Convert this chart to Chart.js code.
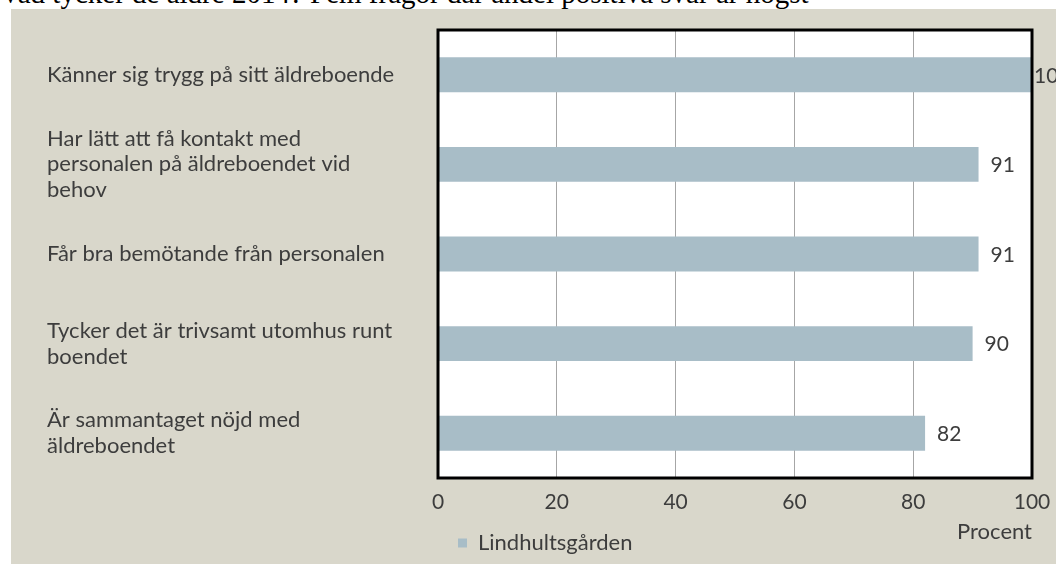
<!DOCTYPE html>
<html>
<head>
<meta charset="utf-8">
<script src="https://cdn.jsdelivr.net/npm/chart.js@4/dist/chart.umd.min.js"></script>
<style>
  html, body { margin: 0; padding: 0; background: #fff; overflow: hidden; }
  body { width: 1056px; height: 564px; position: relative; }
  #title {
    position: absolute; left: 0; top: -21px; white-space: nowrap;
    font-family: "Liberation Serif", "Times New Roman", serif; font-size: 29px; line-height: 1; color: #000;
  }
  #panel {
    position: absolute; left: 11px; top: 9px; width: 1045px; height: 555px; background: #d9d7cb;
  }
</style>
</head>
<body>
<div id="title">Vad tycker de äldre 2014? Fem frågor där andel positiva svar är högst</div>
<div id="panel"><canvas id="chart" width="1045" height="555"></canvas></div>
<script>
// data
const questions = [
    ['Känner sig trygg på sitt äldreboende'],
    ['Har lätt att få kontakt med', 'personalen på äldreboendet vid', 'behov'],
    ['Får bra bemötande från personalen'],
    ['Tycker det är trivsamt utomhus runt', 'boendet'],
    ['Är sammantaget nöjd med', 'äldreboendet']
];
const lindhultsgarden = [100, 91, 91, 90, 82];
const xTicks = [0, 20, 40, 60, 80, 100];
const seriesName = 'Lindhultsgården';
const axisTitle = 'Procent';

const FONT = 'Lato';
const TEXT = '#3d3d3d';
const BAR = '#a8bdc7';

// white plot area + black frame
const framePlugin = {
    id: 'frame',
    beforeDraw(chart) {
        const { ctx, chartArea: a } = chart;
        ctx.save();
        ctx.fillStyle = '#fff';
        ctx.fillRect(a.left, a.top, a.right - a.left, a.bottom - a.top);
        ctx.restore();
    },
    afterDatasetsDraw(chart) {
        const { ctx, chartArea: a } = chart;
        ctx.save();
        ctx.strokeStyle = '#000';
        ctx.lineWidth = 3;
        ctx.strokeRect(a.left, a.top, a.right - a.left, a.bottom - a.top);
        ctx.restore();
    }
};

// value labels right of each bar
const valuePlugin = {
    id: 'values',
    afterDraw(chart) {
        const { ctx, chartArea: a } = chart;
        const meta = chart.getDatasetMeta(0);
        ctx.save();
        ctx.font = `21px ${FONT}`;
        ctx.fillStyle = TEXT;
        ctx.textBaseline = 'middle';
        ctx.textAlign = 'left';
        meta.data.forEach((bar, i) => {
            const x = Math.min(bar.x + 12, a.right + 2);
            ctx.fillText(String(lindhultsgarden[i]), x, bar.y + 1);
        });
        ctx.restore();
    }
};

new Chart(document.getElementById('chart'), {
    type: 'bar',
    data: {
        labels: questions,
        datasets: [{
            label: seriesName,
            data: lindhultsgarden,
            backgroundColor: BAR,
            borderWidth: 0,
            barPercentage: 0.39,
            categoryPercentage: 1
        }]
    },
    options: {
        indexAxis: 'y',
        responsive: false,
        animation: false,
        layout: { padding: { left: 36, top: 21, right: 24, bottom: 0 } },
        plugins: {
            legend: {
                position: 'bottom',
                align: 'start',
                fullSize: false,
                labels: {
                    boxWidth: 9, boxHeight: 9, padding: 20,
                    color: TEXT, font: { family: FONT, size: 22 }
                }
            },
            tooltip: { enabled: false }
        },
        scales: {
            x: {
                min: 0, max: 100,
                afterBuildTicks(scale) { scale.ticks = xTicks.map(v => ({ value: v })); },
                afterFit(scale) {
                    scale.height = 34;
                    scale.paddingLeft = 0;
                    scale.paddingRight = 0;
                },
                grid: { color: '#a6a6a6', lineWidth: 1, drawTicks: false },
                border: { display: false },
                ticks: { padding: 12, color: TEXT, font: { family: FONT, size: 21 } },
                title: {
                    display: true, text: axisTitle, align: 'end',
                    color: TEXT, font: { family: FONT, size: 22 },
                    padding: { top: 0, bottom: -33 }
                }
            },
            y: {
                afterFit(scale) {
                    scale.width = 391;
                    scale.paddingTop = 0;
                    scale.paddingBottom = 0;
                },
                grid: { display: false },
                border: { display: false },
                ticks: {
                    crossAlign: 'far',
                    color: TEXT,
                    font: { family: FONT, size: 22, lineHeight: 1.18 }
                }
            }
        }
    },
    plugins: [framePlugin, valuePlugin]
});
</script>
</body>
</html>
